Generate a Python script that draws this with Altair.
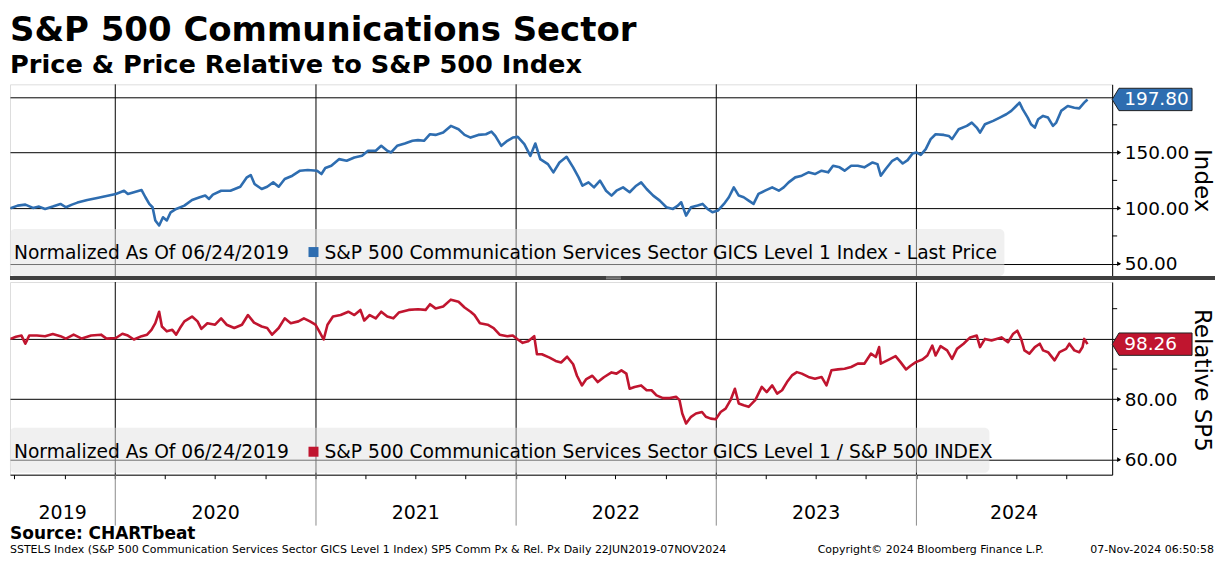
import altair as alt
import pandas as pd

# ---------------- data ----------------
START = "2019-06-23"  # day 0 of the day-offset arrays below

price_days = [1, 14, 28, 42, 53, 64, 78, 92, 102, 113, 123, 141, 159, 176, 193, 208, 215, 226, 240, 247,
              254, 260, 265, 272, 279, 286, 293, 303, 318, 332, 346, 356, 363, 370, 385, 402, 420, 432, 439, 446,
              459, 469, 480, 490, 501, 515, 529, 543, 560, 568, 575, 586, 600, 614, 628, 642, 653, 667, 677, 688,
              695, 706, 720, 734, 744, 755, 766, 776, 790, 804, 818, 829, 840, 854, 868, 878, 885, 896, 907, 917,
              926, 938, 949, 958, 967, 981, 991, 1002, 1015, 1027, 1037, 1044, 1055, 1065, 1076, 1087, 1097,
              1106, 1118, 1130, 1142, 1151, 1161, 1173, 1185, 1197, 1209, 1218, 1224, 1233, 1242, 1254, 1263,
              1272, 1281, 1291, 1302, 1311, 1320, 1329, 1338, 1347, 1356, 1365, 1377, 1390, 1402, 1411, 1420,
              1432, 1444, 1456, 1468, 1480, 1492, 1501, 1513, 1522, 1534, 1546, 1558, 1573, 1582, 1588, 1597,
              1609, 1618, 1628, 1637, 1646, 1653, 1661, 1670, 1679, 1688, 1703, 1712, 1718, 1730, 1745, 1754,
              1763, 1769, 1778, 1793, 1805, 1817, 1826, 1835, 1841, 1847, 1856, 1862, 1869, 1875, 1884, 1893,
              1902, 1908, 1917, 1929, 1941, 1950, 1959, 1965]
price_vals = [100, 102.3, 103.2, 100.2, 101.4, 99.3, 101.4, 103.8, 100.8, 103.2, 105, 107.4, 109.2, 111, 112.8,
              115.7, 112.8, 114.3, 116.3, 109.8,
              103.8, 100.8, 88.9, 84.4, 91.8, 88.9, 96.3, 99.3, 102.3, 107.4, 109.8, 111.3, 108.3, 112.2, 115.7,
              115.7, 119.3, 127.7, 129.8, 121.7,
              117.2, 119.3, 123.2, 119.3, 126.2, 129.2, 133.7, 134.3, 133.7, 130.7, 136.1, 138.2, 144.1, 142.6,
              145.6, 147.1, 151.6, 151.6, 156.1, 151.6,
              150.1, 156.1, 158.2, 160.6, 161.2, 160.6, 166.5, 165.9, 168, 174, 171, 165.9, 163.5, 165.9, 166.5,
              168.9, 165, 156.1, 160.6, 163.5,
              164.1, 157.6, 147.1, 158.2, 144.1, 139.6, 132.2, 141.1, 146.2, 136.7, 127.7, 120.2, 123.2, 118.7,
              124.7, 115.7, 111.3,
              115.7, 118.7, 114.3, 120.2, 123.2, 117.2, 111.3, 106.8, 100.8, 99.3, 102.3, 105.3, 93.3, 100.8,
              102.3, 103.8,
              99.3, 96.3, 97.8, 103.8, 109.8, 118.7, 111.3, 109.8, 106.8, 103.8, 112.8, 115.7, 118.7, 115.7,
              118.7, 123.2,
              127.7, 129.2, 132.2, 130.7, 133.7, 132.2, 138.2, 136.7, 133.7, 138.2, 138.2, 136.7, 141.1, 139.6,
              129.2, 135.2,
              142.6, 145, 140.2, 143.2, 149.2, 150.1, 148, 153.1, 162.1, 166.5, 165.9, 165, 162.1, 171, 174, 177,
              172.5, 168, 175.5, 178.5, 181.5, 184.5, 187.5, 191.9, 194.9, 188.9, 181.5, 175.5, 172.5, 180, 183,
              181.5,
              174, 177, 187.5, 191.9, 190.4, 189.8, 194.9, 197.8]

rel_days = [1, 11, 21, 28, 35, 49, 64, 78, 92, 102, 116, 131, 148, 166, 176, 193, 205, 215, 226, 240,
            250, 258, 265, 272, 277, 286, 296, 303, 310, 318, 332, 342, 349, 360, 374, 385, 395, 409, 423, 434,
            445, 459, 469, 478, 490, 501, 512, 526, 536, 547, 557, 564, 572, 579, 589, 603, 617, 628, 639, 646,
            656, 667, 677, 688, 699, 709, 727, 744, 758, 766, 776, 790, 804, 818, 829, 840, 847, 857, 871, 882,
            893, 907, 917, 926, 935, 945, 956, 961, 970, 984, 995, 1005, 1016, 1027, 1034, 1043, 1051, 1062,
            1072, 1083, 1097,
            1106, 1115, 1124, 1130, 1139, 1151, 1161, 1170, 1179, 1191, 1203, 1215, 1221, 1226, 1233, 1242,
            1251, 1262, 1269, 1278, 1287, 1296, 1305, 1314, 1322, 1329, 1338, 1347, 1359, 1371, 1380, 1390,
            1399, 1408, 1417, 1426, 1435, 1444, 1456, 1468, 1480, 1489, 1498, 1510, 1522, 1534, 1546, 1558,
            1570, 1579, 1585, 1588, 1600, 1615, 1624, 1634, 1643, 1652, 1664, 1673, 1682, 1688, 1697, 1709,
            1718, 1727, 1739, 1751, 1763, 1769, 1778, 1790, 1799, 1808, 1820, 1829, 1837, 1844, 1850, 1859,
            1869, 1878, 1884, 1893, 1905, 1914, 1926, 1932, 1941, 1950, 1956, 1959, 1965]
rel_vals = [100, 100.7, 101.1, 98.4, 101.1, 101.1, 100.9, 101.6, 100.9, 100.1, 101.4, 100.1, 101.1, 101.4,
            100.1, 100.3, 101.7, 101.1, 99.8, 100.9,
            101.4, 103, 105.2, 109, 104.1, 102.5, 103, 101.4, 103.6, 105.8, 107.4, 105.8, 103.3, 105.2, 104.7,
            106.8, 104.7, 103.6, 104.7, 107.9,
            105.4, 104.1, 103.6, 101.4, 103.6, 106.8, 105.2, 105.8, 106.8, 105.8, 104.7, 102.5, 99.8, 104.7,
            107.4, 107.9, 109, 107.9, 109.6, 106.1,
            107.9, 106.8, 109, 107.4, 106.8, 108.7, 109.6, 109.8, 109.6, 111.5, 110.1, 110.7, 113, 112.3, 110.4,
            109, 107.9, 105.2, 104.7, 103.6,
            101.4, 100.9, 101.1, 99.8, 98.7, 99.2, 100.9, 94.9, 94.9, 93.8, 92.7, 92.2, 94.1, 91.6, 87.8, 84.6,
            86.7, 87.8,
            85.7, 87.3, 88.9,
            88.5, 89.6, 88.5, 83.5, 84.1, 84.6, 83, 83, 81.3, 80.4, 80.4, 80.8, 79.7, 75.3, 72, 74.2,
            75.3, 75.8, 74.2, 73.6, 73.4, 75.8, 76.9, 79.7, 83.5, 78.6, 78, 77.5, 79.7, 84.1, 82.4, 84.6,
            81.9, 83, 85.7, 87.9, 89, 88.5, 87.4, 86.8, 87.4, 84.6, 89.6, 89.9, 90.1, 90.7, 91.8, 91.8,
            95.1, 94, 97.3, 91.8, 92.9, 94.3, 92.3, 89.9, 91.2, 92.3, 93.2, 94.5, 97.8, 94.5, 97.6, 96.2,
            93.4, 96.7, 98.4, 100.5, 101.1, 97.3, 100, 99.5, 100, 100.5, 98.9, 101.6, 102.7, 100, 96.2, 95.1,
            97.3, 98.4, 96.2, 95.6, 92.9, 95.6, 96.7, 98.4, 96.2, 95.6, 97.3, 100, 98.26]

years = ["2019", "2020", "2021", "2022", "2023", "2024"]
year_label_dates = ["2019-09-27", "2020-07-02", "2021-07-02", "2022-07-02", "2023-07-02", "2024-06-27"]
year_starts = ["2020-01-01", "2021-01-01", "2022-01-01", "2023-01-01", "2024-01-01"]
quarter_ticks = [f"{y}-{m:02d}-01" for y in range(2019, 2025) for m in (1, 4, 7, 10)
                 if "2019-07-01" <= f"{y}-{m:02d}-01" <= "2024-10-01"]

top_major = [50, 100, 150, 200]
top_minor = [75, 125, 175]
bot_major = [60, 80, 100]
bot_minor = [70, 90, 110]

TITLE = "S&P 500 Communications Sector"
SUBTITLE = "Price & Price Relative to S&P 500 Index"
NORM = "Normalized As Of 06/24/2019"
TOP_LEG = "S&P 500 Communication Services Sector GICS Level 1 Index - Last Price"
BOT_LEG = "S&P 500 Communication Services Sector GICS Level 1 / S&P 500 INDEX"
SOURCE = "Source: CHARTbeat"
FOOT1 = "SSTELS Index (S&P 500 Communication Services Sector GICS Level 1 Index) SP5 Comm Px & Rel. Px  Daily 22JUN2019-07NOV2024"
FOOT2 = "Copyright\u00a9 2024 Bloomberg Finance L.P."
FOOT3 = "07-Nov-2024 06:50:58"

# ---------------- helpers ----------------
start_ts = pd.Timestamp(START)


def iso(days):
    return [(start_ts + pd.Timedelta(days=int(d))).strftime("%Y-%m-%d") for d in days]


def dt(s):
    t = pd.Timestamp(s)
    return alt.DateTime(year=t.year, month=t.month, date=t.day, utc=True)


price_df = pd.DataFrame({"date": iso(price_days), "value": price_vals})
rel_df = pd.DataFrame({"date": iso(rel_days), "value": rel_vals})
ystart_df = pd.DataFrame({"date": year_starts})
ylabel_df = pd.DataFrame({"date": year_label_dates, "year": years})
one = pd.DataFrame({"a": [1]})

W, TOP_H, BOT_H = 1104, 192, 193
RIGHT = 1207
BLUE = "#2e6db0"
RED = "#c0152f"
FONT = "DejaVu Sans"
LEG_SIZE = 18.7
TAG = "M -1 0 L -0.83 -0.28 L 1 -0.28 L 1 0.28 L -0.83 0.28 Z"

xscale = alt.Scale(type="utc", domain=[dt("2019-06-23"), dt("2024-12-23")])
x_top = alt.X("date:T", scale=xscale, axis=None)
x_bot = alt.X("date:T", scale=xscale,
              axis=alt.Axis(values=[dt(q) for q in quarter_ticks], labels=False, ticks=True, tickSize=4,
                            tickColor="black", domain=True, domainColor="black", domainWidth=1,
                            grid=False, title=None))


def yaxis(values, hide, title, ty):
    return alt.Axis(orient="right", values=values,
                    labelExpr=f"datum.value == {hide} ? '' : format(datum.value, '.2f')",
                    labelFont=FONT, labelFontSize=18.5, labelColor="black", labelPadding=5,
                    labelAlign="left", labelBaseline="middle", labelFlush=False, labelOverlap=False,
                    labelBound=False,
                    tickSize=7, tickColor="black", domainColor="black", domainWidth=1,
                    grid=True, gridColor="black", gridWidth=1, gridOpacity=1,
                    title=title, titleFont=FONT, titleFontSize=23, titleFontWeight="normal",
                    titleColor="black", titleAngle=90, titleX=89, titleY=ty,
                    titleAlign="center", titleBaseline="middle")


y_top = alt.Y("value:Q", scale=alt.Scale(domain=[38.95, 211.41], nice=False, zero=False),
              axis=yaxis(top_major, 200, "Index", 96))
y_bot = alt.Y("value:Q", scale=alt.Scale(domain=[55.04, 118.84], nice=False, zero=False),
              axis=yaxis(bot_major, 100, "Relative SP5", 98))


def text(s, x, y, size, weight="normal", align="left", color="black", baseline="alphabetic"):
    return alt.Chart(one).mark_text(align=align, baseline=baseline, font=FONT, fontSize=size,
                                    fontWeight=weight, color=color).encode(
        x=alt.value(x), y=alt.value(y), text=alt.value(s))


def box(x1, x2, y1, y2, color, opacity=1.0, radius=0):
    return alt.Chart(one).mark_rect(color=color, opacity=opacity, cornerRadius=radius).encode(
        x=alt.value(x1), x2=alt.value(x2), y=alt.value(y1), y2=alt.value(y2))


def panel(df, color, xenc, yenc, height, majors, minors, legend, box_top, box_bottom, box_right,
          base, sq_top):
    layers = [
        alt.Chart(ystart_df).mark_rule(color="black", strokeWidth=1).encode(
            x=xenc, y=alt.value(0), y2=alt.value(height)),
        alt.Chart(df).mark_line(color=color, strokeWidth=2.6, strokeJoin="round").encode(x=xenc, y=yenc),
        box(0, box_right, box_top, box_bottom, "#e1e1e1", 0.5, 5),
        text(NORM, 4, base, LEG_SIZE),
        box(299, 309, sq_top, sq_top + 10, color),
        text(legend, 315, base, LEG_SIZE),
        alt.Chart(pd.DataFrame({"value": minors})).mark_rule(color="black").encode(
            x=alt.value(W), x2=alt.value(W + 5), y=yenc),
        alt.Chart(pd.DataFrame({"value": majors})).mark_point(
            shape="triangle-right", filled=True, color="black", size=22, opacity=1).encode(
            x=alt.value(W + 7), y=yenc),
        alt.Chart(df.tail(1)).mark_point(shape=TAG, size=6400, filled=True, fill=color, stroke="#222222",
                                         strokeWidth=1, opacity=1).encode(x=alt.value(W + 40), y=yenc),
        alt.Chart(df.tail(1).assign(label=lambda d: d["value"].map(lambda v: f"{v:.2f}"))).mark_text(
            align="left", baseline="middle", font=FONT, fontSize=18.5, color="white").encode(
            x=alt.value(W + 12), y=yenc, text="label:N"),
    ]
    return layers


top_layers = panel(price_df, BLUE, x_top, y_top, TOP_H, top_major, top_minor, TOP_LEG,
                   145, TOP_H, 996, 175, 163)
top_layers += [
    box(0, RIGHT, TOP_H, TOP_H + 4, "#404040"),
    box(597, 612, TOP_H + 0.6, TOP_H + 1.4, "#a8a8a8"),
    box(597, 612, TOP_H + 2.4, TOP_H + 3.2, "#a8a8a8"),
    text(TITLE, 0, -43, 34, "bold"),
    text(SUBTITLE, 0, -11, 25.7, "bold"),
]
top = alt.layer(*top_layers).properties(width=W, height=TOP_H)

bot_layers = panel(rel_df, RED, x_bot, y_bot, BOT_H, bot_major, bot_minor, BOT_LEG,
                   146, BOT_H - 2, 981, 176, 165)
bot_layers = [
    alt.Chart(ystart_df).mark_rule(color="#8c8c8c", strokeWidth=1).encode(
        x=x_bot, y=alt.value(BOT_H), y2=alt.value(BOT_H + 51)),
] + bot_layers + [
    alt.Chart(ylabel_df).mark_text(align="center", baseline="middle", font=FONT, fontSize=19,
                                   color="black").encode(x=x_bot, y=alt.value(231), text="year:N"),
    text(SOURCE, 0, 257, 17, "bold"),
    text(FOOT1, 0, 271, 11),
    text(FOOT2, 809, 271, 11),
    text(FOOT3, RIGHT - 1, 271, 11, align="right"),
]
bottom = alt.layer(*bot_layers).properties(width=W, height=BOT_H)

chart = alt.vconcat(top, bottom, spacing=0).properties(
    padding={"left": 0, "right": 0, "top": 5, "bottom": 0}
).configure_view(stroke=None).configure(background="white")

chart.save("out.html", embed_options={"renderer": "svg", "actions": False})
